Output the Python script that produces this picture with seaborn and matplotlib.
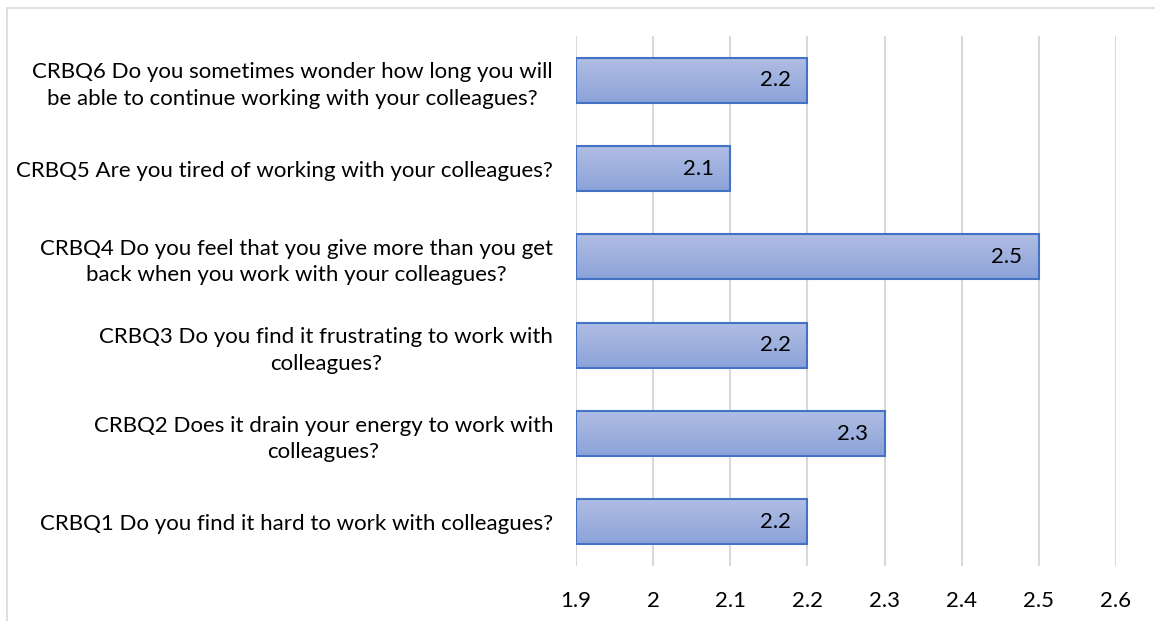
import numpy as np
import pandas as pd
import matplotlib
matplotlib.use("Agg")
import matplotlib.pyplot as plt
import seaborn as sns
from matplotlib.colors import LinearSegmentedColormap
from matplotlib.patches import Rectangle

questions = [
    "CRBQ6 Do you sometimes wonder how long you will\nbe able to continue working with your colleagues?",
    "CRBQ5 Are you tired of working with your colleagues?",
    "CRBQ4 Do you feel that you give more than you get\nback when you work with your colleagues?",
    "CRBQ3 Do you find it frustrating to work with\ncolleagues?",
    "CRBQ2 Does it drain your energy to work with\ncolleagues?",
    "CRBQ1 Do you find it hard to work with colleagues?",
]
scores = [2.2, 2.1, 2.5, 2.2, 2.3, 2.2]
x_ticks = [1.9, 2.0, 2.1, 2.2, 2.3, 2.4, 2.5, 2.6]
x_tick_labels = ["1.9", "2", "2.1", "2.2", "2.3", "2.4", "2.5", "2.6"]
x_min, x_max = 1.9, 2.6

df = pd.DataFrame({"question": questions, "score": scores})

sns.set_theme(style="white")
plt.rcParams["font.family"] = ["Lato", "DejaVu Sans"]

fig = plt.figure(figsize=(11.55, 6.21), dpi=100)
ax = fig.add_axes([576 / 1155, 1 - 566 / 621, (1116 - 576) / 1155, (566 - 36) / 621])

sns.barplot(data=df, x="score", y="question", orient="h", ax=ax,
            width=0.51, color="#9aacdc", linewidth=0, zorder=3)

ax.set_xlim(x_min, x_max)
ax.set_ylim(5.5, -0.5)

# vertical gradient fill for each bar, starting at the axis minimum
grad = LinearSegmentedColormap.from_list("barfill", ["#b0bee4", "#8ca2d8"])
gimg = np.linspace(0, 1, 64).reshape(-1, 1)
for patch in list(ax.patches):
    y0, h = patch.get_y(), patch.get_height()
    end = patch.get_x() + patch.get_width()
    x0 = x_min
    w = end - x0
    im = ax.imshow(gimg, cmap=grad, aspect="auto",
                   extent=[x0, end, y0 + h, y0], zorder=3.5,
                   interpolation="bilinear")
    clip = Rectangle((x0, y0), w, h, transform=ax.transData)
    im.set_clip_path(clip)
    outline = Rectangle((x0, y0), w, h, fill=False, edgecolor="#4472c4",
                        linewidth=1.5, zorder=4)
    ax.add_patch(outline)
    ax.annotate(f"{end:.1f}", xy=(end, y0 + h / 2), xytext=(-12, 0),
                textcoords="offset points", ha="right", va="center",
                fontsize=16, color="#000000", zorder=5)

ax.set_xlim(x_min, x_max)
ax.set_ylim(5.5, -0.5)

ax.set_xticks(x_ticks)
ax.set_xticklabels(x_tick_labels, fontsize=16, color="#000000")
ax.tick_params(axis="x", length=0, pad=18)
ax.tick_params(axis="y", length=0, pad=16.5)
for lab in ax.get_yticklabels():
    lab.set_fontsize(16)
    lab.set_color("#000000")
    lab.set_horizontalalignment("right")
    lab.set_multialignment("center")
    lab.set_linespacing(1.4)

ax.grid(axis="x", color="#d9d9d9", linewidth=1.5, zorder=0)
ax.set_axisbelow(True)
for s in ax.spines.values():
    s.set_visible(False)
ax.set_xlabel("")
ax.set_ylabel("")

# thin outer frame on the left and top
fig.add_artist(plt.Line2D([7 / 1155, 7 / 1155], [0, 1 - 8 / 621],
                          color="#d9d9d9", linewidth=1.2))
fig.add_artist(plt.Line2D([7 / 1155, 1], [1 - 8 / 621, 1 - 8 / 621],
                          color="#d9d9d9", linewidth=1.2))

fig.savefig("out.png", dpi=100)
